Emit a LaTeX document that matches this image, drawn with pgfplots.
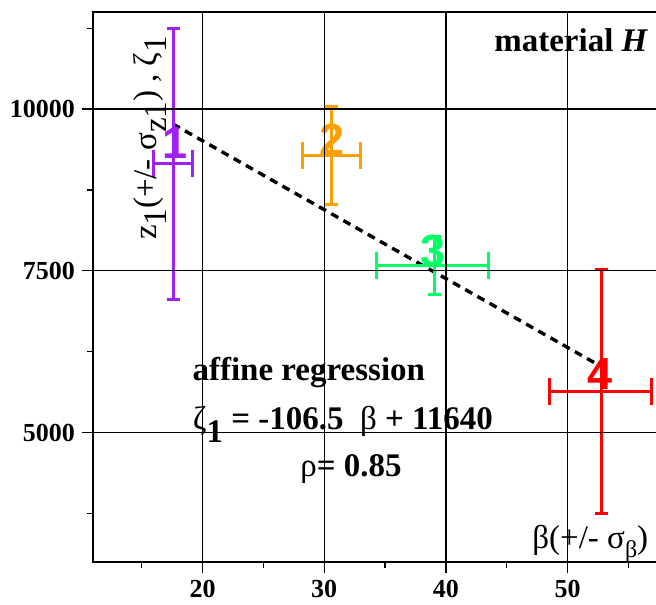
\documentclass[border=0pt]{standalone}
\usepackage{fontspec}
\setmainfont{Liberation Serif}
\newfontfamily\labfont{Liberation Sans}
\usepackage{pgfplots}
\pgfplotsset{compat=1.18}
\definecolor{cpurple}{RGB}{160,32,240}
\definecolor{corange}{RGB}{255,160,0}
\definecolor{cgreen}{RGB}{0,255,100}
\definecolor{cred}{RGB}{255,0,0}
\pgfplotsset{
  yerr/.style={#1, mark=none, error bars/.cd, y dir=both, y explicit,
    error bar style={line width=1.5pt, #1},
    error mark options={rotate=90, mark size=3.25pt, line width=1.5pt, #1}},
  xerr/.style={#1, mark=none, error bars/.cd, x dir=both, x explicit,
    error bar style={line width=1.5pt, #1},
    error mark options={rotate=90, mark size=6.75pt, line width=1.5pt, #1}}
}
\begin{document}
\begin{tikzpicture}
\begin{axis}[at={(46.5pt,21pt)}, anchor=south west, scale only axis,
  width=286pt, height=275pt,
  xmin=11, xmax=58, ymin=3000, ymax=11500,
  xtick={20,30,40,50}, ytick={5000,7500,10000},
  minor xtick={15,25,35,45,55}, minor ytick={3750,6250,8750,11250},
  scaled y ticks=false, scaled x ticks=false,
  axis on top,
  grid=major, major grid style={black, line width=0.6pt},
  minor grid style={draw=none},
  tick align=outside, tick pos=left,
  major tick length=5.5pt, minor tick length=3pt,
  every tick/.style={black, line width=0.6pt},
  axis line style={line width=0.6pt},
  ticklabel style={font=\fontsize{13}{13}\selectfont\bfseries},
  /pgf/number format/assume math mode=true,
  /pgf/number format/1000 sep={},
  clip=false]
% regression line
\addplot[black, line width=1.7pt, dash pattern=on 4pt off 3pt] coordinates {(17.56,9770) (52.6,6038)};
% point 1
\addplot[yerr=cpurple] coordinates {(17.59,9154) +- (0,2090)};
\addplot[xerr=cpurple] coordinates {(17.59,9154) +- (1.6,0)};
% point 2
\addplot[yerr=corange] coordinates {(30.6,9282) +- (0,760)};
\addplot[xerr=corange] coordinates {(30.6,9282) +- (2.36,0)};
% point 3
\addplot[yerr=cgreen] coordinates {(39.06,7588) +- (0,450)};
\addplot[xerr=cgreen] coordinates {(38.9,7588) +- (4.63,0)};
% point 4
\addplot[yerr=cred] coordinates {(52.8,5640) +- (0,1885)};
\addplot[xerr=cred] coordinates {(52.72,5640) +- (4.2,0)};
% point labels
\node[text=cpurple, font=\fontsize{22.5}{22.5}\selectfont\labfont\bfseries] at (axis cs:17.75,9480) {1};
\node[text=corange, font=\fontsize{22.5}{22.5}\selectfont\labfont\bfseries] at (axis cs:30.6,9520) {2};
\node[text=cgreen, font=\fontsize{22.5}{22.5}\selectfont\labfont\bfseries] at (axis cs:38.95,7810) {3};
\node[text=cred, font=\fontsize{22.5}{22.5}\selectfont\labfont\bfseries] at (axis cs:52.7,5900) {4};
% texts
\node[anchor=east, font=\fontsize{16.5}{18}\selectfont\bfseries] at (axis cs:57.2,11065) {material \textit{H}};
\node[font=\fontsize{16.5}{18}\selectfont\bfseries] at (axis cs:28.73,5935) {affine regression};
\node[font=\fontsize{16.5}{18}\selectfont\bfseries] at (axis cs:31.53,5130) {{\mdseries ζ}\raisebox{-0.4em}{1} = -106.5\ \ {\mdseries β} + 11640};
\node[font=\fontsize{16.5}{18}\selectfont\bfseries] at (axis cs:32.2,4442) {{\mdseries ρ}= 0.85};
\node[anchor=east, font=\fontsize{16.5}{18}\selectfont] at (axis cs:57.2,3280) {β(+/- σ\raisebox{-0.3em}{\fontsize{12}{12}\selectfont β})};
\node[rotate=90, font=\fontsize{16.5}{18}\selectfont] at (axis cs:15.67,9554) {z\raisebox{-0.3em}{1}(+/- σ\raisebox{-0.3em}{z1}) , ζ\raisebox{-0.3em}{1}};
\end{axis}
\pgfresetboundingbox
\path[use as bounding box] (0,0) rectangle (328pt,302pt);
\end{tikzpicture}
\end{document}
